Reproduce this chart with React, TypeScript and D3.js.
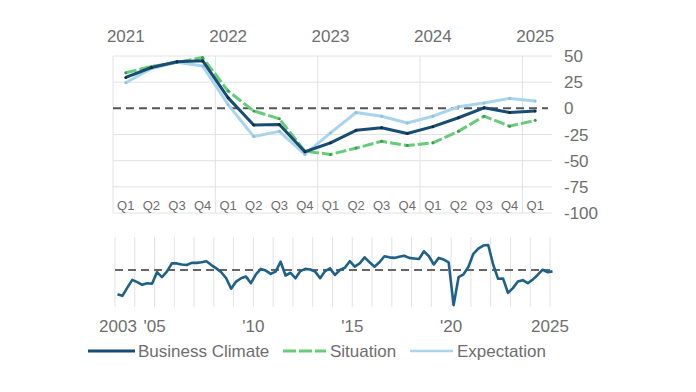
import React, { useRef, useEffect } from 'react';
import * as d3 from 'd3';

// quarterly balances 2021 Q1 .. 2025 Q1
const years = ['2021', '2022', '2023', '2024', '2025'];
const quarterNames = ['Q1', 'Q2', 'Q3', 'Q4'];
const climate = [29.5, 39, 44.5, 45.5, 10, -16, -15.5, -41.5, -33, -21, -18.5, -24, -17.5, -9, 0.5, -4, -2.5];
const situation = [34, 40, 44, 48.5, 16.5, -2.5, -10, -41, -44, -38, -31.5, -35.5, -33, -22, -7.5, -17, -11.5];
const expectation = [24.5, 38, 44, 40.5, 3.5, -27, -22, -44, -23.5, -4, -7.5, -14, -7.5, 1.5, 5, 9.5, 7];
const yTicks = [50, 25, 0, -25, -50, -75, -100];

// long history of the business climate, 2003 Q1 .. 2020 Q4 (2021 on = climate)
const climateHistory = [
  -44, -47, -32, -18,
  -22, -27, -24, -25,
  -4, -13, -3, 12,
  12, 10, 9, 13,
  13, 14, 16, 9,
  3, -4, -15, -34,
  -21, -15, -12, -24,
  -8, 2, -1, -7,
  -3, 15, -10, -5,
  -15, -2, 2, 1,
  -3, -15, -2, 3,
  -9, 0, 4, 16,
  6, 12, 23, 14,
  6, 14, 25, 23,
  22, 24, 26, 22,
  21, 20, 34, 25,
  10, 22, 19, 14,
  -64, -13, -8, 6,
];
const historyTicks = [2003, 2005, 2010, 2015, 2020, 2025];
const historyLabels = ['2003', "'05", "'10", "'15", "'20", '2025'];

const legendItems = ['Business Climate', 'Situation', 'Expectation'];

const NAVY = '#194c72';
const NAVY2 = '#1d6088';
const GREEN = '#66cc77';
const LIGHT = '#a8d4ef';
const GRID = '#e2e2e2';
const TEXT = '#6e6e6e';
const FONT = 'Liberation Sans, Arial, sans-serif';
const FS = '17px';

const App = () => {
  const ref = useRef<SVGSVGElement | null>(null);

  useEffect(() => {
    const svg = d3.select(ref.current);
    svg.selectAll('*').remove();

    // ---------- top chart ----------
    const labels = d3.range(climate.length).map(i => years[Math.floor(i / 4)] + quarterNames[i % 4]);
    const x = d3.scaleBand().domain(labels).range([113, 548]);
    const y = d3.scaleLinear().domain([-100, 50]).range([213, 56]);
    const bw = x.bandwidth();
    const cx = (i: number) => (x(labels[i]) as number) + bw / 2;

    const top = svg.append('g');

    top.selectAll('.hgrid')
      .data(yTicks.filter(d => d !== 0))
      .enter()
      .append('line')
      .attr('x1', 113)
      .attr('x2', 552)
      .attr('y1', d => y(d))
      .attr('y2', d => y(d))
      .attr('stroke', GRID)
      .attr('stroke-width', 1);

    top.selectAll('.vgrid')
      .data(years)
      .enter()
      .append('line')
      .attr('x1', (d, i) => x(labels[i * 4]) as number)
      .attr('x2', (d, i) => x(labels[i * 4]) as number)
      .attr('y1', y(50))
      .attr('y2', y(-100))
      .attr('stroke', GRID)
      .attr('stroke-width', 1);

    top.append('line')
      .attr('x1', 113)
      .attr('x2', 548)
      .attr('y1', y(0))
      .attr('y2', y(0))
      .attr('stroke', '#555')
      .attr('stroke-width', 2)
      .attr('stroke-dasharray', '8,5');

    top.selectAll('.qlabel')
      .data(labels)
      .enter()
      .append('text')
      .attr('x', (d, i) => cx(i))
      .attr('y', 210)
      .attr('text-anchor', 'middle')
      .style('font-family', FONT)
      .style('font-size', '13px')
      .style('fill', TEXT)
      .text((d, i) => quarterNames[i % 4]);

    top.selectAll('.ylabel')
      .data(years)
      .enter()
      .append('text')
      .attr('x', (d, i) => cx(i * 4))
      .attr('y', 42)
      .attr('text-anchor', 'middle')
      .style('font-family', FONT)
      .style('font-size', FS)
      .style('fill', TEXT)
      .text(d => d);

    top.selectAll('.ytick')
      .data(yTicks)
      .enter()
      .append('text')
      .attr('x', 564)
      .attr('y', d => y(d))
      .attr('dy', '0.36em')
      .style('font-family', FONT)
      .style('font-size', FS)
      .style('fill', TEXT)
      .text(d => d);

    const line = d3.line<number>().x((d, i) => cx(i)).y(d => y(d));

    const series = [
      { values: expectation, color: LIGHT, dot: '#8fc0e0', dash: null },
      { values: situation, color: GREEN, dot: '#3f9a52', dash: '11,3' },
      { values: climate, color: NAVY, dot: '#0c2d45', dash: null },
    ];

    series.forEach(s => {
      top.append('path')
        .datum(s.values)
        .attr('d', line)
        .attr('fill', 'none')
        .attr('stroke', s.color)
        .attr('stroke-width', 3)
        .attr('stroke-linejoin', 'round')
        .attr('stroke-dasharray', s.dash);
      top.selectAll(null)
        .data(s.values)
        .enter()
        .append('circle')
        .attr('cx', (d, i) => cx(i))
        .attr('cy', d => y(d))
        .attr('r', 1.5)
        .attr('fill', s.dot);
    });

    // ---------- bottom chart ----------
    const history = climateHistory.concat(climate);
    const hx = d3.scaleLinear().domain([2003, 2025]).range([115, 550]);
    const hy = d3.scaleLinear().domain([-70, 60]).range([308.5, 237]);
    const bottom = svg.append('g');

    bottom.selectAll('.hgridb')
      .data(d3.range(2003, 2026))
      .enter()
      .append('line')
      .attr('x1', d => hx(d))
      .attr('x2', d => hx(d))
      .attr('y1', 237)
      .attr('y2', 307)
      .attr('stroke', GRID)
      .attr('stroke-width', 1);

    bottom.append('line')
      .attr('x1', 115)
      .attr('x2', 550)
      .attr('y1', hy(0))
      .attr('y2', hy(0))
      .attr('stroke', '#666')
      .attr('stroke-width', 2)
      .attr('stroke-dasharray', '8,5');

    bottom.append('path')
      .datum(history)
      .attr('d', d3.line<number>().x((d, i) => hx(2003 + (i + 0.5) / 4)).y(d => hy(d)))
      .attr('fill', 'none')
      .attr('stroke', NAVY2)
      .attr('stroke-width', 2.6)
      .attr('stroke-linejoin', 'round');

    bottom.selectAll('.hlabel')
      .data(historyTicks)
      .enter()
      .append('text')
      .attr('x', (d, i) => hx(d) + (i === 0 ? 3 : 0))
      .attr('y', 332)
      .attr('text-anchor', 'middle')
      .style('font-family', FONT)
      .style('font-size', FS)
      .style('fill', TEXT)
      .text((d, i) => historyLabels[i]);

    // ---------- legend ----------
    const legend = svg.append('g');
    const lx = [88, 283, 410];
    const colors = [NAVY, GREEN, LIGHT];
    legend.selectAll('.lline')
      .data(legendItems)
      .enter()
      .append('line')
      .attr('x1', (d, i) => lx[i])
      .attr('x2', (d, i) => (i === 0 ? lx[i] + 47 : lx[i] + 43))
      .attr('y1', 351)
      .attr('y2', 351)
      .attr('stroke', (d, i) => colors[i])
      .attr('stroke-width', (d, i) => (i === 2 ? 2.5 : 3))
      .attr('stroke-dasharray', (d, i) => (i === 1 ? '13,3' : null));
    legend.selectAll('.ltext')
      .data(legendItems)
      .enter()
      .append('text')
      .attr('x', (d, i) => (i === 0 ? 138 : lx[i] + 47))
      .attr('y', 351)
      .attr('dy', '0.36em')
      .style('font-family', FONT)
      .style('font-size', FS)
      .style('fill', TEXT)
      .text(d => d);
  }, []);

  return (
    <svg
      ref={ref}
      width={696}
      height={392}
      style={{ position: 'absolute', left: 0, top: 0, background: '#fff' }}
    />
  );
};

export default App;
